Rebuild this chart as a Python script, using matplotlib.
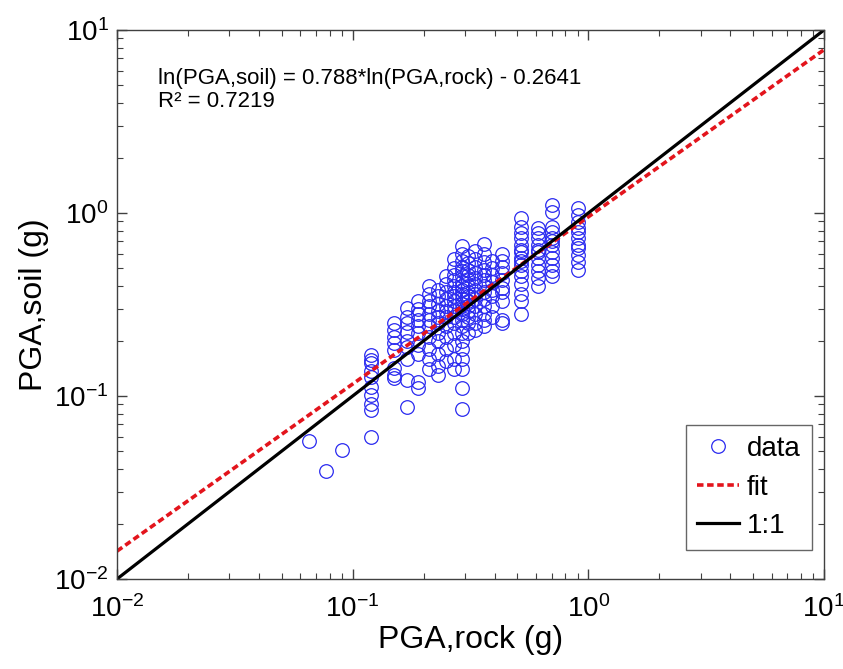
import matplotlib
matplotlib.use("Agg")
import matplotlib.pyplot as plt
import numpy as np
from matplotlib.ticker import LogLocator, FixedLocator, NullFormatter

plt.rcParams['font.family'] = ['Liberation Sans', 'DejaVu Sans']
plt.rcParams['mathtext.fontset'] = 'custom'
plt.rcParams['mathtext.rm'] = 'Liberation Sans'

# ---- data ----
rock_columns = [0.065, 0.077, 0.09, 0.12, 0.15, 0.17, 0.19, 0.21, 0.23, 0.25,
                0.27, 0.29, 0.31, 0.33, 0.36, 0.39, 0.43, 0.52, 0.61, 0.70, 0.90]
soil_columns = [
    [0.057],
    [0.039],
    [0.051],
    [0.168, 0.158, 0.151, 0.137, 0.127, 0.112, 0.101, 0.09, 0.084, 0.06],
    [0.251, 0.23, 0.21, 0.195, 0.178, 0.142, 0.13, 0.125],
    [0.303, 0.27, 0.25, 0.225, 0.2, 0.185, 0.16, 0.122, 0.087],
    [0.33, 0.30, 0.28, 0.26, 0.24, 0.22, 0.19, 0.17, 0.12, 0.11],
    [0.40, 0.36, 0.33, 0.31, 0.28, 0.26, 0.24, 0.21, 0.18, 0.16, 0.14],
    [0.38, 0.35, 0.32, 0.29, 0.27, 0.25, 0.22, 0.20, 0.17, 0.145, 0.13],
    [0.45, 0.41, 0.37, 0.34, 0.31, 0.29, 0.27, 0.24, 0.21, 0.18, 0.155],
    [0.56, 0.50, 0.46, 0.43, 0.40, 0.37, 0.35, 0.33, 0.31, 0.29, 0.27, 0.25, 0.22, 0.19, 0.16, 0.14],
    [0.66, 0.60, 0.55, 0.51, 0.48, 0.45, 0.42, 0.40, 0.38, 0.36, 0.34, 0.32, 0.30, 0.28,
     0.26, 0.24, 0.22, 0.20, 0.18, 0.16, 0.14, 0.11, 0.085],
    [0.58, 0.53, 0.49, 0.46, 0.43, 0.40, 0.37, 0.35, 0.33, 0.31, 0.29, 0.27, 0.25, 0.22],
    [0.62, 0.56, 0.51, 0.47, 0.44, 0.41, 0.38, 0.36, 0.34, 0.31, 0.28, 0.25, 0.23],
    [0.68, 0.60, 0.54, 0.49, 0.46, 0.43, 0.40, 0.37, 0.34, 0.31, 0.28, 0.26, 0.24],
    [0.55, 0.50, 0.46, 0.42, 0.38, 0.35, 0.31, 0.27],
    [0.60, 0.55, 0.51, 0.47, 0.43, 0.39, 0.37, 0.33, 0.26, 0.25],
    [0.94, 0.84, 0.78, 0.73, 0.67, 0.63, 0.61, 0.57, 0.55, 0.52, 0.48, 0.45, 0.41, 0.36, 0.33, 0.28],
    [0.83, 0.78, 0.73, 0.67, 0.63, 0.61, 0.57, 0.52, 0.48, 0.44, 0.40],
    [1.11, 1.01, 0.84, 0.79, 0.73, 0.70, 0.67, 0.61, 0.57, 0.52, 0.48, 0.45],
    [1.07, 0.98, 0.89, 0.83, 0.79, 0.73, 0.67, 0.64, 0.59, 0.54, 0.49],
]
fit_x = [0.01, 10.0]
fit_y = [0.0142, 7.8]
one_x = [0.01, 10.0]
one_y = [0.01, 10.0]
tick_values = [1e-2, 1e-1, 1e0, 1e1]
tick_labels = [r'$\mathregular{10^{-2}}$', r'$\mathregular{10^{-1}}$',
               r'$\mathregular{10^{0}}$', r'$\mathregular{10^{1}}$']
equation_text = "ln(PGA,soil) = 0.788*ln(PGA,rock) - 0.2641\nR² = 0.7219"

rock = np.concatenate([[r] * len(s) for r, s in zip(rock_columns, soil_columns)])
soil = np.concatenate(soil_columns)

# ---- figure ----
fig = plt.figure(figsize=(8.43, 6.69), dpi=100)
ax = fig.add_axes([117 / 843, 90 / 669, 707 / 843, 549 / 669])

ax.plot(rock, soil, linestyle='none', marker='o', markersize=9.8,
        markerfacecolor='none', markeredgecolor='#2a2af0', markeredgewidth=0.9,
        label='data')
ax.plot(fit_x, fit_y, color='#e3141c', linestyle=(0, (1.8, 1.0)), linewidth=2.6, label='fit')
ax.plot(one_x, one_y, color='black', linestyle='-', linewidth=2.3, label='1:1')

ax.set_xscale('log')
ax.set_yscale('log')
ax.set_xlim(1e-2, 1e1)
ax.set_ylim(1e-2, 1e1)

for axis in (ax.xaxis, ax.yaxis):
    axis.set_major_locator(FixedLocator(tick_values))
    axis.set_minor_locator(LogLocator(base=10, subs=np.arange(2, 10), numticks=20))
    axis.set_minor_formatter(NullFormatter())
ax.set_xticklabels(tick_labels)
ax.set_yticklabels(tick_labels)

ax.tick_params(which='both', direction='in', top=True, right=True, colors='#404040',
               labelcolor='black', labelsize=20)
ax.tick_params(which='major', length=7, width=1)
ax.tick_params(which='minor', length=4, width=0.8)
ax.tick_params(axis='x', pad=12)
ax.tick_params(axis='y', pad=6)
for sp in ax.spines.values():
    sp.set_color('#404040')
    sp.set_linewidth(1.0)

ax.set_xlabel('PGA,rock (g)', fontsize=23, labelpad=1)
ax.set_ylabel('PGA,soil (g)', fontsize=23, labelpad=4)

ax.text(0.058, 0.93, equation_text, transform=ax.transAxes, fontsize=16,
        va='top', ha='left', linespacing=1.1)

leg = ax.legend(loc='upper right', bbox_to_anchor=(0.983, 0.2805), borderaxespad=0,
                fontsize=20, frameon=True, fancybox=False, handlelength=1.5,
                handletextpad=0.3, labelspacing=0.45, borderpad=0.4)
leg.get_frame().set_edgecolor('#404040')
leg.get_frame().set_linewidth(1.0)

fig.savefig('out.png', dpi=100)
